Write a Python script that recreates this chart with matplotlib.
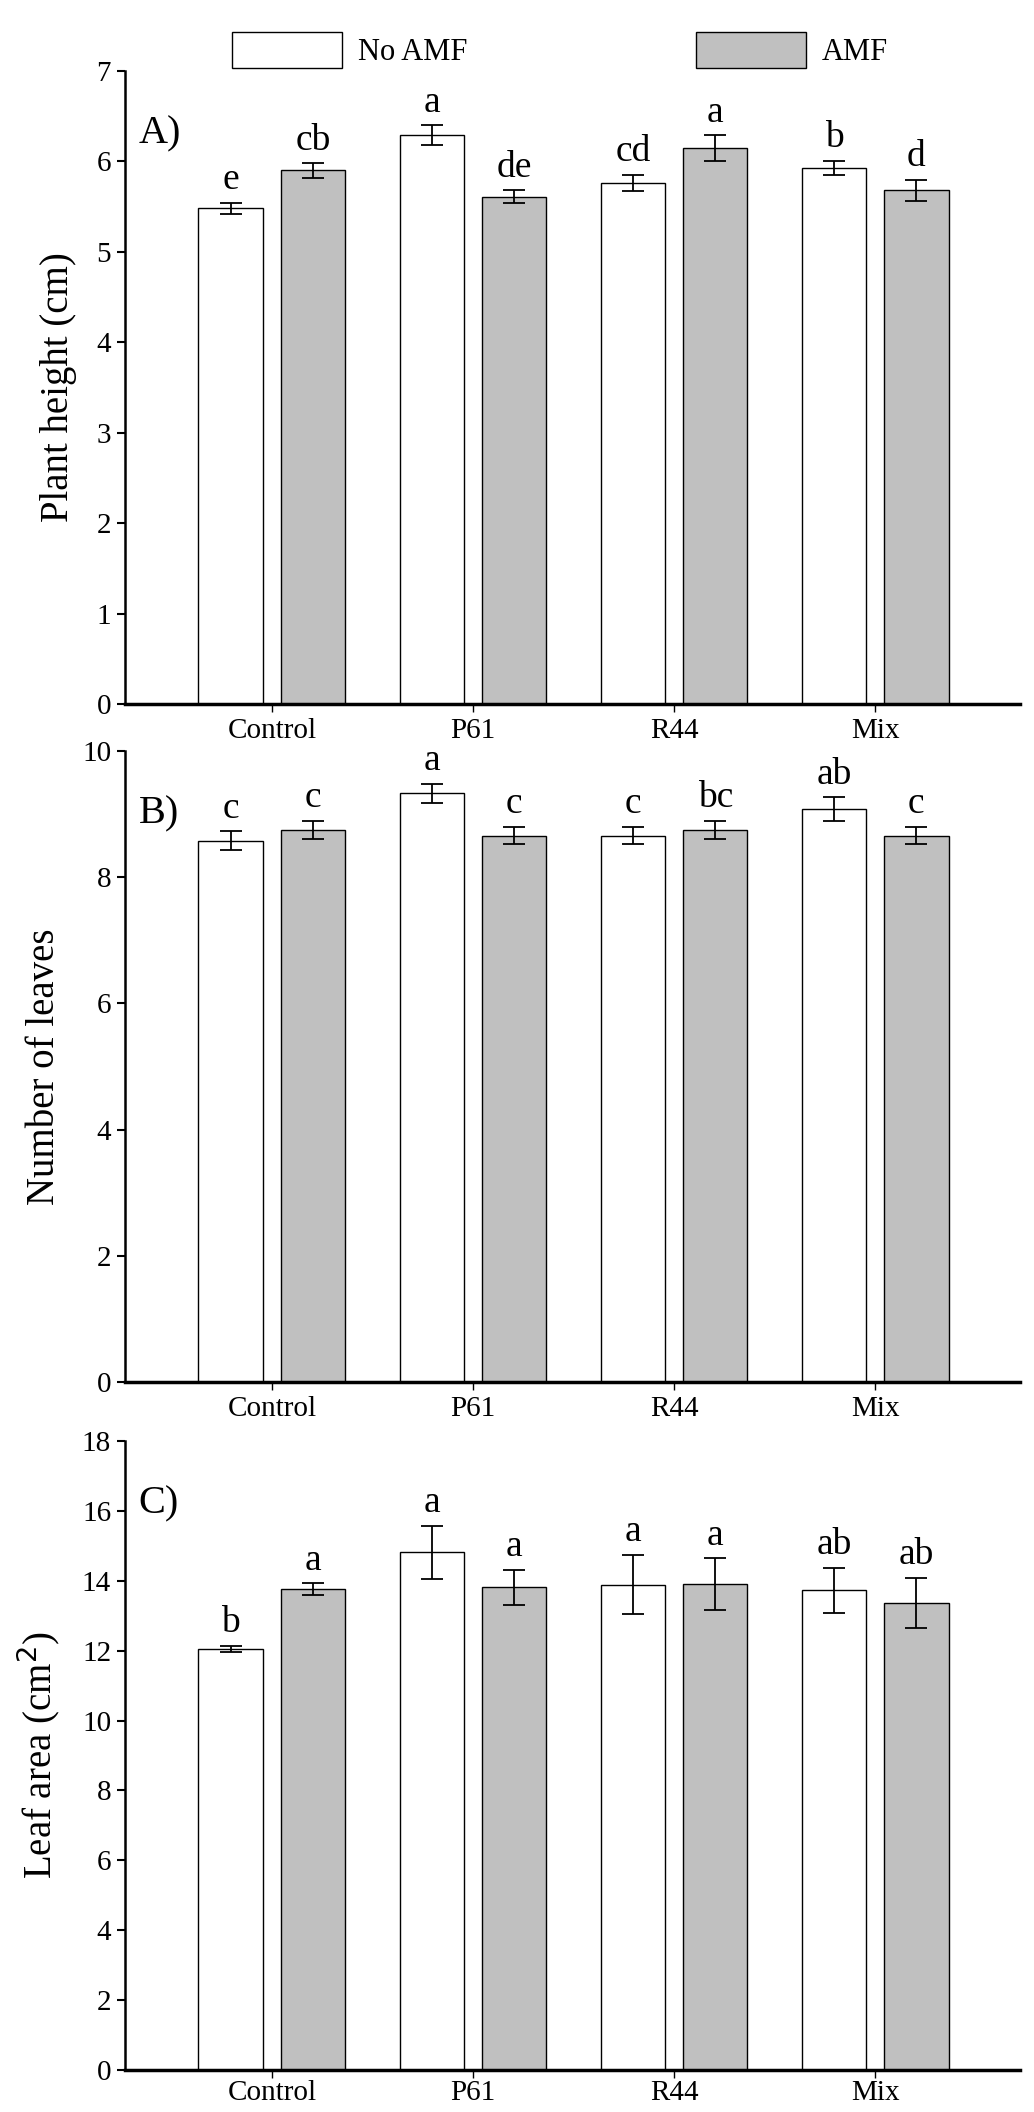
import numpy as np
import matplotlib
matplotlib.use('Agg')
import matplotlib.pyplot as plt
from matplotlib.patches import Patch

plt.rcParams['font.family'] = ['Liberation Serif', 'DejaVu Serif']

treatments = ["Control", "P61", "R44", "Mix"]

height_noamf = [5.48, 6.29, 5.76, 5.93]
height_noamf_err = [0.06, 0.11, 0.09, 0.08]
height_amf = [5.90, 5.61, 6.15, 5.68]
height_amf_err = [0.08, 0.07, 0.14, 0.12]
height_letters_noamf = ["e", "a", "cd", "b"]
height_letters_amf = ["cb", "de", "a", "d"]

leaves_noamf = [8.58, 9.33, 8.66, 9.08]
leaves_noamf_err = [0.145, 0.15, 0.14, 0.19]
leaves_amf = [8.75, 8.66, 8.75, 8.66]
leaves_amf_err = [0.14, 0.14, 0.14, 0.14]
leaves_letters_noamf = ["c", "a", "c", "ab"]
leaves_letters_amf = ["c", "c", "bc", "c"]

area_noamf = [12.05, 14.81, 13.89, 13.73]
area_noamf_err = [0.09, 0.76, 0.85, 0.64]
area_amf = [13.76, 13.82, 13.90, 13.36]
area_amf_err = [0.17, 0.50, 0.74, 0.72]
area_letters_noamf = ["b", "a", "a", "ab"]
area_letters_amf = ["a", "a", "a", "ab"]

W, H = 1034, 2112
fig = plt.figure(figsize=(W / 100, H / 100), dpi=100)

grey = "#c0c0c0"
width = 0.32
off = 0.205
x = np.arange(len(treatments))


def panel(top, bottom, ymax, ystep, noamf, noamf_err, amf, amf_err,
          let_no, let_amf, ylabel, tag, xpad=4):
    left, right = 125, 1020
    ax = fig.add_axes([left / W, 1 - bottom / H, (right - left) / W, (bottom - top) / H])
    ax.bar(x - off, noamf, width, color="white", edgecolor="black", linewidth=1.0,
           yerr=noamf_err, capsize=8, error_kw=dict(elinewidth=1.3, capthick=1.3))
    ax.bar(x + off, amf, width, color=grey, edgecolor="black", linewidth=1.0,
           yerr=amf_err, capsize=8, error_kw=dict(elinewidth=1.3, capthick=1.3))
    for i in range(len(treatments)):
        ax.annotate(let_no[i], (x[i] - off, noamf[i] + noamf_err[i]),
                    xytext=(0, 4), textcoords="offset points",
                    ha="center", va="bottom", fontsize=27)
        ax.annotate(let_amf[i], (x[i] + off, amf[i] + amf_err[i]),
                    xytext=(0, 4), textcoords="offset points",
                    ha="center", va="bottom", fontsize=27)
    ax.set_xlim(-0.73, 3.72)
    ax.set_ylim(0, ymax)
    ax.set_yticks(np.arange(0, ymax + 0.01, ystep))
    ax.set_xticks(x)
    ax.set_xticklabels(treatments)
    ax.spines["top"].set_visible(False)
    ax.spines["right"].set_visible(False)
    ax.spines["left"].set_linewidth(1.8)
    ax.spines["bottom"].set_linewidth(2.5)
    ax.tick_params(axis="y", direction="out", length=6, width=1.5, labelsize=21, pad=4)
    ax.tick_params(axis="x", direction="out", length=6, width=1.0, labelsize=21, pad=xpad)
    ax.set_ylabel(ylabel, fontsize=28, labelpad=14)
    ax.text(0.015, 0.93, tag, transform=ax.transAxes, fontsize=29, ha="left", va="top")
    return ax


ax1 = panel(71, 704, 7, 1, height_noamf, height_noamf_err, height_amf, height_amf_err,
            height_letters_noamf, height_letters_amf, "Plant height (cm)", "A)")
ax2 = panel(751, 1382, 10, 2, leaves_noamf, leaves_noamf_err, leaves_amf, leaves_amf_err,
            leaves_letters_noamf, leaves_letters_amf, "Number of leaves", "B)")
ax3 = panel(1441, 2070, 18, 2, area_noamf, area_noamf_err, area_amf, area_amf_err,
            area_letters_noamf, area_letters_amf, "Leaf area (cm$^2$)", "C)", xpad=1)

handles = [Patch(facecolor="white", edgecolor="black", label="No AMF"),
           Patch(facecolor=grey, edgecolor="black", label="AMF")]
fig.legend(handles=handles, loc="center", bbox_to_anchor=(560 / W, 1 - 50 / H),
           ncol=2, frameon=False, fontsize=22, handlelength=3.6, handleheight=1.4,
           columnspacing=7.5, handletextpad=0.5)

fig.savefig("out.png", dpi=100)
